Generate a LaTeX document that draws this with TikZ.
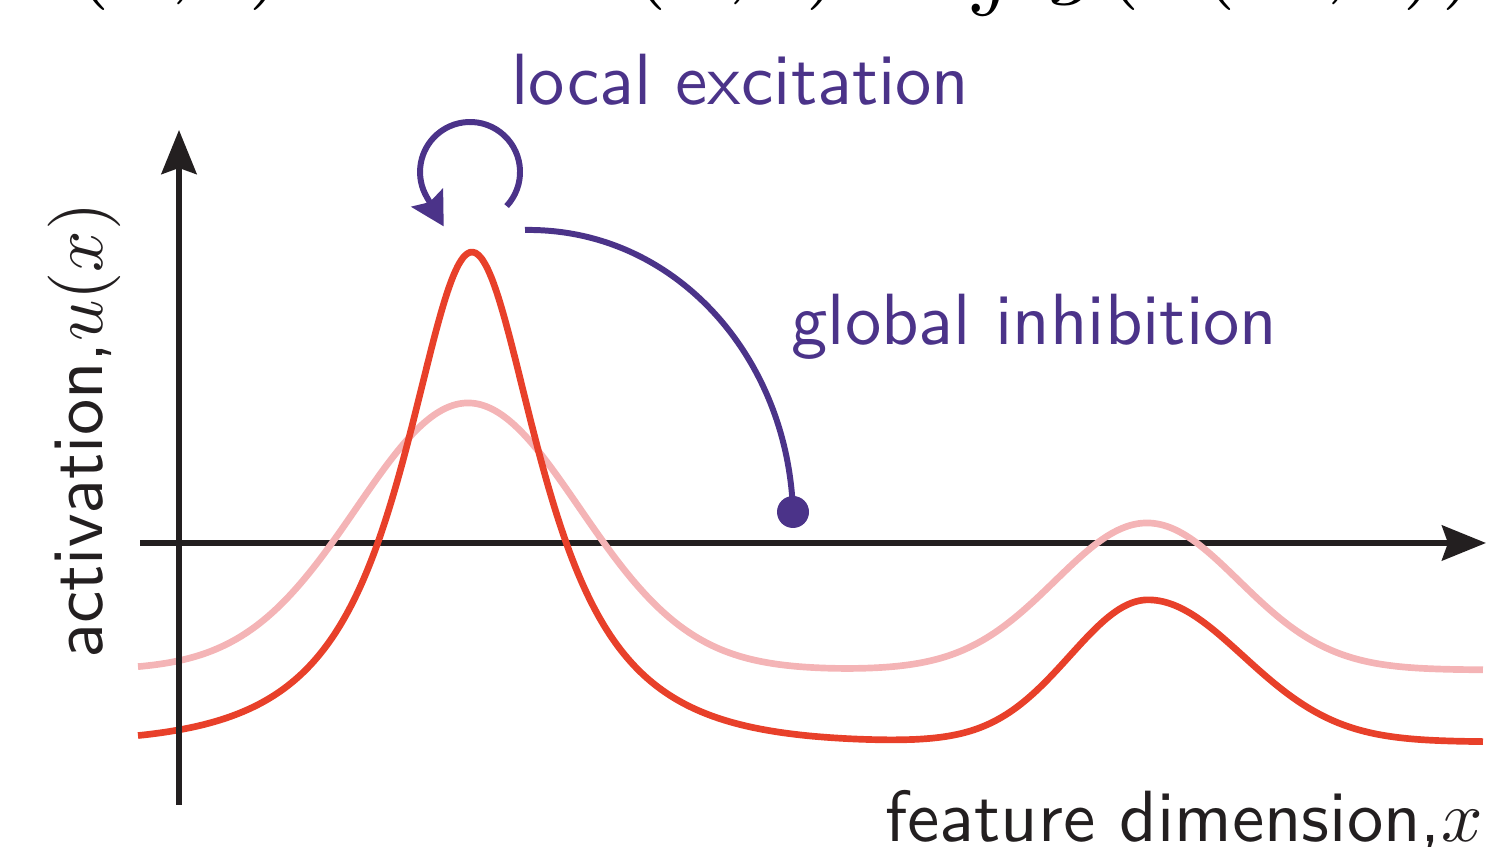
\documentclass[tikz,border=0pt]{standalone}
\usetikzlibrary{
  arrows.meta
}
\definecolor{inhib}{HTML}{4B3389}
\definecolor{peak}{HTML}{E8402A}
\definecolor{stim}{HTML}{F4B4B6}
\definecolor{ink}{HTML}{231F20}

\begin{document}
\begin{tikzpicture}[
  declare function={
    sechk(\t)=2/(exp(min(abs(\t),9))+exp(-min(abs(\t),9)));
    fieldu(\x)=1.05+4.40*sechk((\x-4.72)/0.56)+0.50*exp(-((\x-4.72)*(\x-4.72))/4.5)
               +1.42*exp(-((\x-11.48)*(\x-11.48))/((\x<11.48)?1.22:1.80));
    stimu(\x)=1.77+2.67*exp(-((\x-4.68)*(\x-4.68))/2.49)+1.47*exp(-((\x-11.47)*(\x-11.47))/1.69);
  },
  axisline/.style={line width=1.7pt, draw=ink, -{Stealth[length=4.4mm, width=3.5mm, inset=0.6mm]}},
  fieldcurve/.style={line width=1.9pt, line join=round},
  inter/.style={line width=1.7pt, draw=inhib},
  lbl/.style={font=\sffamily, scale=2.065, inner sep=0pt},
  dot/.style={circle, fill=inhib, inner sep=0pt, minimum size=3.2mm}
]
  \useasboundingbox (0,0) rectangle (14.87,8.47);

  % Equation (cut off by the frame)
  \node[anchor=base west, inner sep=0pt, scale=2.85] (eqn) at (-0.43, 8.61)
    {$\tau\dot{u}(x,t) \;=\; -\,u(x,t) + \int g(u(x',t))$};

  % Axes
  \coordinate (xleft) at (1.40, 3.04);
  \coordinate (xright) at (14.86, 3.04);
  \coordinate (ybot) at (1.79, 0.42);
  \coordinate (ytop) at (1.79, 7.17);
  \draw[axisline] (xleft) -- (xright);

  % Input and field
  \draw[fieldcurve, draw=stim] plot[domain=1.38:14.83, samples=240, smooth] (\x, {stimu(\x)});
  \draw[fieldcurve, draw=peak] plot[domain=1.38:14.83, samples=240, smooth] (\x, {fieldu(\x)});

  \draw[axisline] (ybot) -- (ytop);

  % Interactions
  \coordinate (selfstart) at (5.066, 6.409);
  \draw[inter, -{Stealth[length=3.3mm, width=3.6mm, inset=0.5mm]}]
    (selfstart) arc[start angle=-43, end angle=210, radius=0.5] -- ++(-60:0.34);

  \coordinate (inhibstart) at (5.25, 6.17);
  \node[dot] (sink) at (7.93, 3.35) {};
  \draw[inter] (inhibstart) .. controls (6.75, 6.19) and (7.88, 4.90) .. (sink.center);

  % Labels
  \node[lbl, text=inhib, anchor=base west] (local) at (5.10, 7.42) {local excitation};
  \node[lbl, text=inhib, anchor=base west] (global) at (7.90, 5.02) {global inhibition};
  \node[lbl, text=ink, rotate=90, anchor=base west] (ylabel) at (1.03, 1.87) {activation,$u(x)$};
  \node[lbl, text=ink, anchor=base east] (xlabel) at (14.84, 0.05) {feature dimension,$x$};
\end{tikzpicture}
\end{document}
